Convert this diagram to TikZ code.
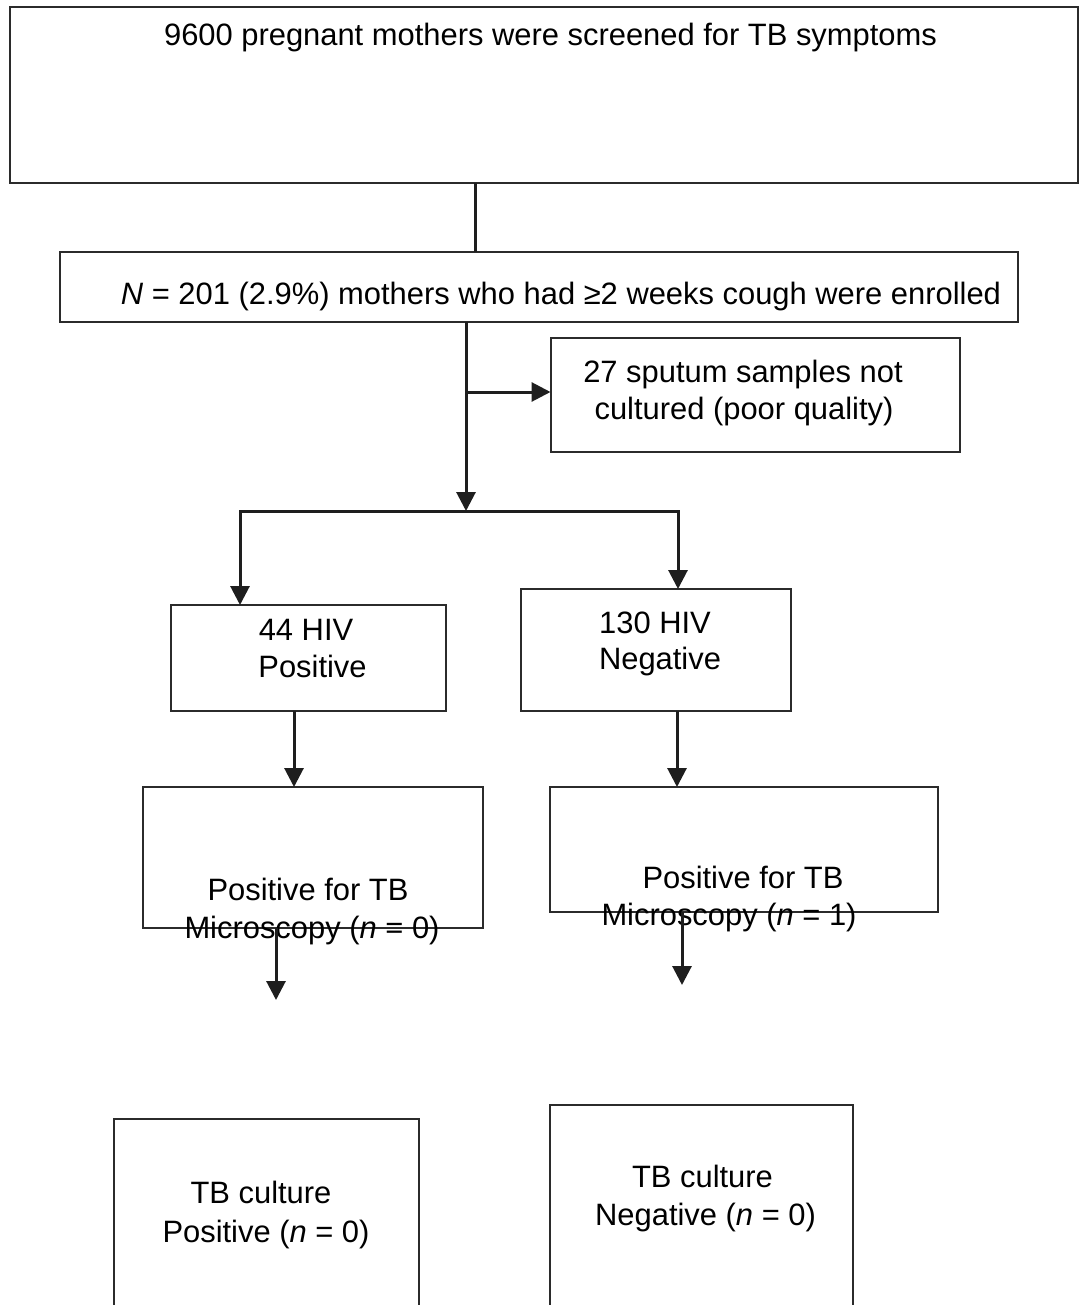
\documentclass[tikz,border=0pt]{standalone}
\usepackage{fontspec}
\setmainfont{Liberation Sans}
\usetikzlibrary{arrows.meta}
\definecolor{boxc}{HTML}{2B2B2B}
\definecolor{linec}{HTML}{1E1E1E}
\begin{document}
\begin{tikzpicture}[x=1pt,y=-1pt,
  box/.style={draw=boxc, line width=2pt, rectangle, inner sep=0pt, outer sep=0pt, anchor=north west},
  txt/.style={anchor=base, inner sep=0pt, font=\fontsize{30.9}{37}\selectfont},
  conn/.style={draw=linec, line width=3pt},
  arr/.style={conn, -{Triangle[length=19pt,width=19pt]}}]
\clip (0,0) rectangle (1079,1305);
\fill[white] (0,0) rectangle (1079,1305);
% boxes
\node[box, minimum width=1068pt, minimum height=175.5pt] (top) at (10,7.5) {};
\node[box, minimum width=958pt, minimum height=70pt] (nbox) at (60,252) {};
\node[box, minimum width=409pt, minimum height=114pt] (sput) at (550.5,337.5) {};
\node[box, minimum width=275.5pt, minimum height=106pt] (hivp) at (170.5,605) {};
\node[box, minimum width=270pt, minimum height=122pt] (hivn) at (520.5,589) {};
\node[box, minimum width=339.5pt, minimum height=141pt] (micp) at (143,787) {};
\node[box, minimum width=388pt, minimum height=125pt] (micn) at (550,787) {};
\node[box, minimum width=305.5pt, minimum height=220pt] (culp) at (113.5,1119) {};
\node[box, minimum width=303pt, minimum height=230pt] (culn) at (550,1105) {};
% texts
\node[txt] (t1) at (550.5,46) {9600 pregnant mothers were screened for TB symptoms};
\node[txt] (t2) at (561,305) {\textit{N} = 201 (2.9\%) mothers who had ≥2 weeks cough were enrolled};
\node[txt] (t3a) at (743,382) {27 sputum samples not};
\node[txt] (t3b) at (744,419) {cultured (poor quality)};
\node[txt] (t4a) at (306,640) {44 HIV};
\node[txt] (t4b) at (312.5,677) {Positive};
\node[txt] (t5a) at (655,633) {130 HIV};
\node[txt] (t5b) at (660,669) {Negative};
\node[txt] (t6a) at (308,900) {Positive for TB};
\node[txt] (t6b) at (312,938) {Microscopy (\textit{n} = 0)};
\node[txt] (t7a) at (743,888) {Positive for TB};
\node[txt] (t7b) at (729,925) {Microscopy (\textit{n} = 1)};
\node[txt] (t8a) at (261,1203) {TB culture};
\node[txt] (t8b) at (266,1242) {Positive (\textit{n} = 0)};
\node[txt] (t9a) at (702.5,1187) {TB culture};
\node[txt] (t9b) at (705.5,1225) {Negative (\textit{n} = 0)};
% connectors
\coordinate (c1) at (475,0);
\draw[conn] (top.south -| c1) -- (nbox.north -| c1);
\coordinate (split) at (466,511);
\draw[arr] (nbox.south -| split) -- (split);
\coordinate (j1) at (467,392);
\draw[arr] (j1) -- (j1 -| sput.west);
\coordinate (sl) at (240,511);
\coordinate (sr) at (678,511);
\draw[conn, line cap=rect] (sl) -- (sr);
\draw[arr] (sl) -- (sl |- hivp.north);
\draw[arr] (sr) -- (sr |- hivn.north);
\coordinate (xa) at (294,0);
\draw[arr] (hivp.south -| xa) -- (micp.north -| xa);
\coordinate (xb) at (677,0);
\draw[arr] (hivn.south -| xb) -- (micn.north -| xb);
\coordinate (ea) at (276,1000);
\draw[arr] (micp.south -| ea) -- (ea);
\coordinate (eb) at (682,985);
\draw[arr] (micn.south -| eb) -- (eb);
\end{tikzpicture}
\end{document}
